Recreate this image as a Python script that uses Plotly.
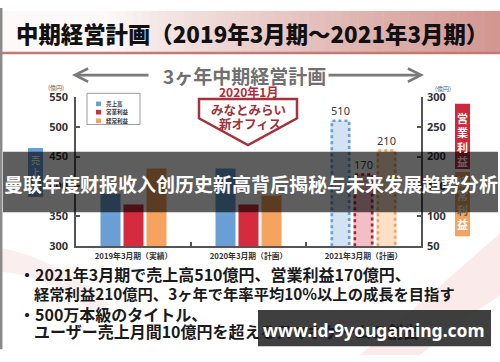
import plotly.graph_objects as go

W, H = 500, 362

# ---------------- data ----------------
categories = ["2019年3月期（実績）", "2020年3月期（計画）", "2021年3月期（計画）"]
series_names = ["売上高", "営業利益", "経常利益"]
sales = [388, 430, 510]        # 売上高 (億円) - left axis
op_profit = [120, 120, 170]    # 営業利益 (億円) - right axis
ord_profit = [180, 135, 210]   # 経常利益 (億円) - right axis
left_ticks = [300, 350, 400, 450, 500, 550]
right_ticks = [50, 100, 150, 200, 250, 300]

title_text = "中期経営計画（2019年3月期～2021年3月期）"
subtitle_text = "3ヶ年中期経営計画"
overlay_text = "曼联年度财报收入创历史新高背后揭秘与未来发展趋势分析"
bullets = [
    "・2021年3月期で売上高510億円、営業利益170億円、",
    "経常利益210億円、3ヶ年で年率平均10%以上の成長を目指す",
    "・500万本級のタイトル、",
    "ユーザー売上月間10億円を超えるスマホゲームの創出",
]
watermark = "www.id-9yougaming.com"

# ---------------- styles ----------------
JP = "Noto Sans CJK JP"
SC = "Noto Sans CJK SC"
solid = ["#6a9fd6", "#d52b3e", "#f6a35f"]
light = ["#d3e3f4", "#f3bfc6", "#fde0c6"]
edge = ["#6a9fd6", "#a52535", "#f2a466"]
bw = 0.174
offsets = [-0.287, -0.087, 0.113]
axes_for = ["y", "y2", "y2"]
axis_min = {"y": 300, "y2": 50}


def px(x):
    return x / W


def py(y):
    return 1 - y / H


fig = go.Figure()
values = [sales, op_profit, ord_profit]
xs = list(range(len(categories)))
for i, (name, vals) in enumerate(zip(series_names, values)):
    colors = [solid[i]] * (len(vals) - 1) + [light[i]]
    texts = [""] * (len(vals) - 1) + [str(vals[-1])]
    fig.add_trace(go.Bar(
        x=xs, y=vals, name=name, yaxis=axes_for[i],
        width=bw, offset=offsets[i],
        marker=dict(color=colors, line=dict(width=0)),
        text=texts, textposition="outside", cliponaxis=False,
        textfont=dict(family="Noto Sans", size=11, color="#3a3a3a"),
        showlegend=False, hoverinfo="skip",
    ))
    # dotted outline for the plan (last) bar, derived from data
    L = xs[-1] + offsets[i]
    R = L + bw
    base = axis_min[axes_for[i]]
    v = vals[-1]
    fig.add_trace(go.Scatter(
        x=[L + 0.012, L + 0.012, R - 0.012, R - 0.012], y=[base, v, v, base],
        mode="lines", yaxis=axes_for[i],
        line=dict(color=edge[i], width=2.6, dash="dot"),
        showlegend=False, hoverinfo="skip",
    ))

shapes = []
# header gradient
n = 60
c1 = (252, 249, 248)
c2 = (211, 150, 145)
for k in range(n):
    xa, xb = k * W / n, (k + 1) * W / n
    t = max(0.0, ((xa + xb) / 2 - 110) / (W - 110))
    t = t ** 0.85
    c = tuple(int(c1[j] + (c2[j] - c1[j]) * t) for j in range(3))
    shapes.append(dict(type="rect", xref="paper", yref="paper", layer="below",
                       x0=px(xa), x1=px(xb) + 0.001, y0=py(46), y1=py(3),
                       line=dict(width=0), fillcolor="rgb(%d,%d,%d)" % c))
shapes.append(dict(type="line", xref="paper", yref="paper", x0=0, x1=1,
                   y0=py(47), y1=py(47), line=dict(color="#c27a72", width=2.5)))
# left frame line
shapes.append(dict(type="line", xref="paper", yref="paper", x0=px(1.2), x1=px(1.2),
                   y0=py(356), y1=1, line=dict(color="#8a8a8a", width=2.5)))
# pink decorative swooshes
shapes.append(dict(type="path", xref="paper", yref="paper", layer="below",
                   path="M%f,%f Q%f,%f %f,%f L%f,%f Q%f,%f %f,%f Z" % (
                       px(360), py(362), px(430), py(300), px(500), py(235),
                       px(500), py(300), px(455), py(330), px(420), py(362)),
                   fillcolor="rgba(232,160,160,0.22)", line=dict(width=0)))
shapes.append(dict(type="path", xref="paper", yref="paper", layer="below",
                   path="M%f,%f Q%f,%f %f,%f L%f,%f Q%f,%f %f,%f Z" % (
                       px(0), py(250), px(60), py(262), px(110), py(310),
                       px(90), py(315), px(50), py(280), px(0), py(275)),
                   fillcolor="rgba(232,160,160,0.18)", line=dict(width=0)))
# legend box
shapes.append(dict(type="rect", xref="paper", yref="paper",
                   x0=px(87), x1=px(140), y0=py(121.5), y1=py(89),
                   line=dict(color="#9a9a9a", width=1), fillcolor="white"))
for i, yc in enumerate([100, 108.7, 117.7]):
    shapes.append(dict(type="rect", xref="paper", yref="paper",
                       x0=px(96), x1=px(101), y0=py(yc + 2.4), y1=py(yc - 2.4),
                       line=dict(width=0), fillcolor=solid[i]))
# pentagon callout
pts = [(199, 95), (297, 95), (297, 115), (248, 143), (199, 115)]
path = "M" + " L".join("%f,%f" % (px(a), py(b)) for a, b in pts) + " Z"
shapes.append(dict(type="path", xref="paper", yref="paper", path=path,
                   line=dict(color="#a8323c", width=2.5), fillcolor="white"))
# vertical label boxes
shapes.append(dict(type="rect", xref="paper", yref="paper",
                   x0=px(455), x1=px(470), y0=py(168), y1=py(100),
                   line=dict(width=0), fillcolor="#d0283a"))
shapes.append(dict(type="rect", xref="paper", yref="paper",
                   x0=px(455), x1=px(470), y0=py(238), y1=py(171),
                   line=dict(width=0), fillcolor="#f5a35e"))
shapes.append(dict(type="rect", xref="paper", yref="paper",
                   x0=px(28), x1=px(43), y0=py(197), y1=py(146),
                   line=dict(width=0), fillcolor="#6a9fd6"))
# dark overlay band
shapes.append(dict(type="rect", xref="paper", yref="paper",
                   x0=px(3), x1=px(498), y0=py(213), y1=py(150),
                   line=dict(width=0), fillcolor="rgba(0,0,0,0.63)"))
# watermark box
shapes.append(dict(type="rect", xref="paper", yref="paper",
                   x0=px(258), x1=px(491), y0=py(353), y1=py(315),
                   line=dict(width=0), fillcolor="rgba(48,48,48,0.93)"))

DIM = "#5e5e5e"


def vtext(chars, dim_idx):
    out = []
    for k, ch in enumerate(chars):
        if k in dim_idx:
            out.append('<span style="color:%s">%s</span>' % (DIM, ch))
        else:
            out.append(ch)
    return "<br>".join(out)


ann = []


def A(text, x, y, size, color="#222", family=JP, weight="bold", xanchor="center", **kw):
    d = dict(text=text, xref="paper", yref="paper", x=px(x), y=py(y),
             xanchor=xanchor, yanchor="middle", showarrow=False,
             font=dict(family=family, size=size, color=color, weight=weight))
    d.update(kw)
    ann.append(d)


A(title_text, 252, 26.5, 22.4, color="#111111", weight=900)
A(subtitle_text, 244, 70, 19, color="#707070")
# arrows
ann.append(dict(text="", xref="paper", yref="paper", x=px(72), y=py(70), ax=78, ay=0,
                showarrow=True, arrowhead=5, arrowsize=1.0, arrowwidth=2.6, arrowcolor="#7a7a7a"))
ann.append(dict(text="", xref="paper", yref="paper", x=px(424), y=py(70), ax=-97, ay=0,
                showarrow=True, arrowhead=5, arrowsize=1.0, arrowwidth=2.6, arrowcolor="#7a7a7a"))
A("(億円)", 56, 83, 6, color="#555", weight="normal")
A("(億円)", 443, 84, 6, color="#555", weight="normal")
A("2020年1月", 248, 87.5, 12, color="#b22a36")
A("みなとみらい", 248, 106, 12.5, color="#a0303a")
A("新オフィス", 250, 120, 12.5, color="#a0303a")
for i, (name, yc) in enumerate(zip(series_names, [100, 108.7, 117.7])):
    A(name, 104, yc, 5.5, color="#333", xanchor="left")
A(vtext(series_names[1], [3]), 462.5, 137, 11, color="white")
A(vtext(series_names[2], [0, 1, 2]), 462.5, 203, 11, color="white")
A(vtext(series_names[0], [0, 1, 2]), 35.5, 171, 9, color="white")
A(overlay_text, 250.5, 183, 19, color="white", family=SC)
A(bullets[0], 17, 277.5, 16, color="#1a1a1a", xanchor="left")
A(bullets[1], 32, 297, 15.3, color="#1a1a1a", xanchor="left")
A(bullets[2], 17, 319, 16, color="#1a1a1a", xanchor="left")
A(bullets[3], 32, 337, 16, color="#1a1a1a", xanchor="left")
A(watermark, 374, 336, 17.5, color="white", family="Noto Sans")

axis_common = dict(showgrid=False, zeroline=False, showline=True, linecolor="#555",
                   linewidth=1.5, ticks="inside", ticklen=4, tickcolor="#555",
                   tickwidth=1.5, fixedrange=True,
                   tickfont=dict(family="Noto Sans", size=11, color="#333", weight="bold"))

fig.update_layout(
    width=W, height=H, autosize=False,
    margin=dict(l=0, r=0, t=0, b=0),
    paper_bgcolor="white", plot_bgcolor="rgba(0,0,0,0)",
    barmode="overlay",
    xaxis=dict(domain=[px(76), px(421)], range=[-0.5, 2.5], tickmode="array",
               tickvals=xs, ticktext=categories, ticks="", showline=True,
               linecolor="#555", linewidth=1.5, showgrid=False, zeroline=False,
               fixedrange=True, ticklabelstandoff=2,
               tickfont=dict(family=JP, size=7.8, color="#333", weight="bold"),
               minor=dict(tickmode="array", tickvals=[0.5, 1.5], ticks="inside",
                          ticklen=4, tickcolor="#555", tickwidth=1.5, showgrid=False)),
    yaxis=dict(domain=[py(248.5), py(92.7)], range=[300, 550], tickmode="array",
               tickvals=left_ticks, ticklabelstandoff=4, **axis_common),
    yaxis2=dict(overlaying="y", side="right", anchor="x", range=[50, 300],
                tickmode="array", tickvals=right_ticks, ticklabelstandoff=2, **axis_common),
    shapes=shapes, annotations=ann,
)

fig.write_html("out.html", config={"displayModeBar": False},
               post_script="document.body.style.margin='0';")
